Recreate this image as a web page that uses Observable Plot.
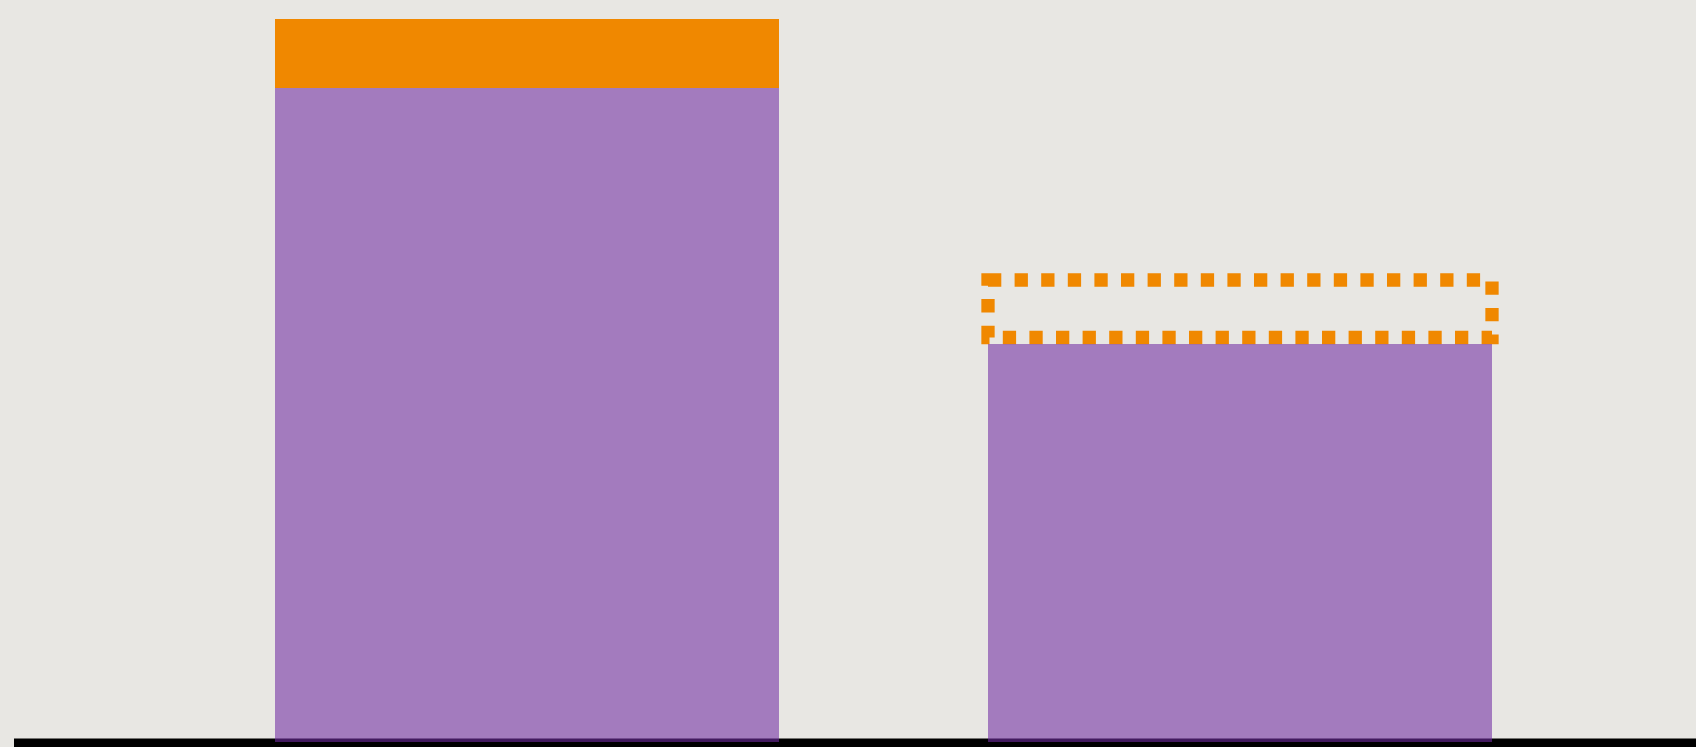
<!DOCTYPE html>
<html>
<head>
<meta charset="utf-8">
<script src="https://cdn.jsdelivr.net/npm/d3@7"></script>
<script src="https://cdn.jsdelivr.net/npm/@observablehq/plot@0.6"></script>
<style>
  html, body { margin: 0; padding: 0; background: #e8e7e3; overflow: hidden; }
  #chart svg { display: block; }
</style>
</head>
<body>
<div id="chart"></div>
<script>
const categories = ["A", "B"];
const baseValues = [65.4, 39.8];
const topValues = [6.9, 6.4];
const topIsProjected = [false, true];

const base = categories.map((c, i) => ({cat: c, y1: 0, y2: baseValues[i]}));
const tops = categories.map((c, i) => ({cat: c, y1: baseValues[i], y2: baseValues[i] + topValues[i], projected: topIsProjected[i]}));

const chart = Plot.plot({
  width: 1696,
  height: 747,
  marginTop: 0, marginBottom: 0, marginLeft: 0, marginRight: 0,
  style: {background: "#e8e7e3"},
  x: {domain: categories, range: [65, 1702], padding: 0.293, axis: null},
  y: {domain: [0, 72.3], range: [742, 19], axis: null},
  marks: [
    Plot.ruleY([0], {stroke: "#000", strokeWidth: 9, dy: 0.5, insetLeft: 14}),
    Plot.barY(tops.filter(d => !d.projected), {x: "cat", y1: "y1", y2: "y2", fill: "#f08800"}),
    Plot.barY(tops.filter(d => d.projected), {x: "cat", y1: "y1", y2: "y2", fill: "none", stroke: "#f08800", strokeWidth: 13.3, strokeDasharray: "13.3 13.3", insetBottom: 6.5}),
    Plot.barY(base, {x: "cat", y1: "y1", y2: "y2", fill: "#712da3", fillOpacity: 0.58})
  ]
});
document.getElementById("chart").appendChild(chart);
</script>
</body>
</html>
